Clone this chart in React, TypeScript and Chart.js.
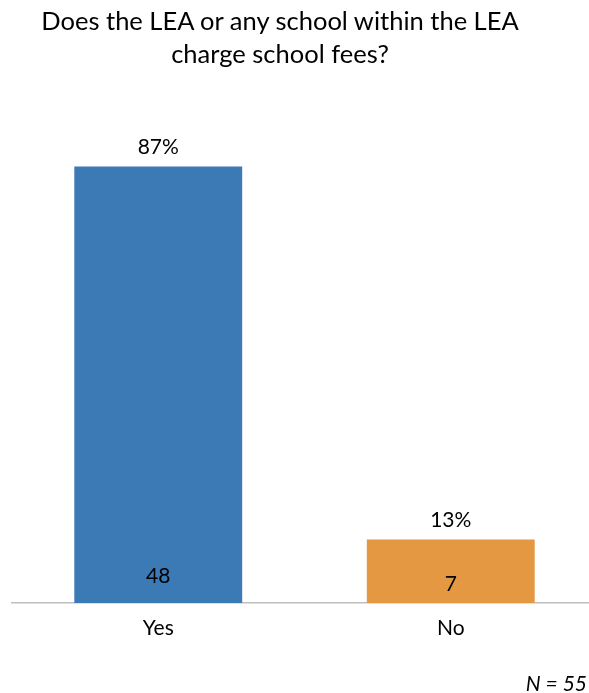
import React, { useEffect, useRef } from "react";
import Chart from "chart.js/auto";

const titleLines = ["Does the LEA or any school within the LEA", "charge school fees?"];
const categories = ["Yes", "No"];
const percentValues = [87.3, 12.7];
const percentLabels = ["87%", "13%"];
const countLabels = ["48", "7"];
const barColors = ["#3C7AB6", "#E39841"];
const sampleNote = "N = 55";

const FONT = "Lato, 'Open Sans', sans-serif";

export default function App() {
  const ref = useRef<HTMLCanvasElement | null>(null);

  useEffect(() => {
    if (!ref.current) return;
    const countOffsets = [20, 12];
    const labelPlugin = {
      id: "barLabels",
      afterDatasetsDraw(chart: any) {
        const ctx = chart.ctx;
        const meta = chart.getDatasetMeta(0);
        ctx.save();
        ctx.fillStyle = "#000";
        ctx.textAlign = "center";
        ctx.textBaseline = "alphabetic";
        ctx.font = `21px ${FONT}`;
        meta.data.forEach((bar: any, i: number) => {
          ctx.fillText(percentLabels[i], bar.x, bar.y - 12.5);
          ctx.fillText(countLabels[i], bar.x, bar.base - countOffsets[i]);
        });
        ctx.font = `italic 21px ${FONT}`;
        ctx.textAlign = "right";
        ctx.fillText(sampleNote, 587, 691);
        ctx.restore();
      },
    };
    const chart = new Chart(ref.current, {
      type: "bar",
      data: {
        labels: categories,
        datasets: [
          {
            data: percentValues,
            backgroundColor: barColors,
            borderWidth: 0,
            categoryPercentage: 1,
            barPercentage: 0.574,
          },
        ],
      },
      options: {
        responsive: false,
        animation: false,
        layout: { padding: { top: 103, left: 12, right: 1, bottom: 40 } },
        plugins: {
          legend: { display: false },
          title: { display: false },
          tooltip: { enabled: false },
        },
        scales: {
          y: { display: false, min: 0, max: 100 },
          x: {
            afterFit: (scale: any) => {
              scale.height = 50;
            },
            grid: { display: false, drawTicks: false },
            border: { display: true, color: "#BFBFBF", width: 1.5 },
            ticks: {
              padding: 13,
              color: "#000",
              font: { family: FONT, size: 21 },
            },
          },
        },
      },
      plugins: [labelPlugin],
    });
    return () => chart.destroy();
  }, []);

  return (
    <div
      style={{
        position: "absolute",
        left: 0,
        top: 0,
        width: 589,
        height: 693,
        overflow: "hidden",
        background: "#fff",
      }}
    >
      <canvas ref={ref} width={598} height={693} style={{ position: "absolute", left: 0, top: 0 }} />
      <div
        style={{
          position: "absolute",
          left: 0,
          top: 3.5,
          width: 560,
          textAlign: "center",
          fontFamily: FONT,
          fontSize: 25.5,
          lineHeight: "33px",
          color: "#000",
          whiteSpace: "nowrap",
        }}
      >
        {titleLines[0]}
        <br />
        {titleLines[1]}
      </div>
    </div>
  );
}
